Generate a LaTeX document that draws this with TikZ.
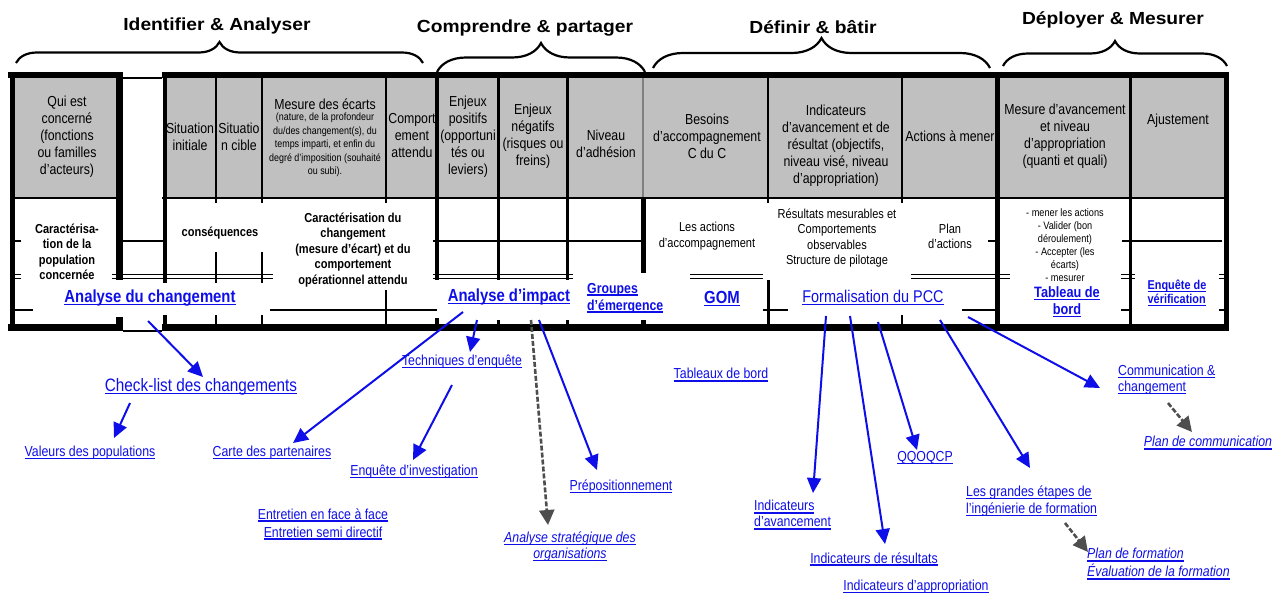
\documentclass[tikz,border=0pt]{standalone}
\usepackage{fontspec}
\setmainfont{Liberation Sans}[FakeStretch=0.85]
\newfontfamily\phasefont{Liberation Sans}[FakeStretch=1.1]
\usetikzlibrary{arrows.meta,calc,decorations.pathreplacing}
\definecolor{headfill}{RGB}{192,192,192}
\definecolor{linkblue}{RGB}{14,14,232}
\definecolor{linkgrey}{RGB}{78,78,78}
\newcommand{\ulink}[1]{\setbox0\hbox{#1}\rlap{\rule[-2.6pt]{\wd0}{1.3pt}}\box0}

\tikzset{
  headtext/.style={align=center, inner sep=0pt, font=\fontsize{14.5}{17}\selectfont},
  notetext/.style={align=center, inner sep=0pt, font=\fontsize{10.5}{13.5}\selectfont},
  celltext/.style={align=center, inner sep=0pt, font=\fontsize{13}{15.3}\selectfont},
  cellbold/.style={align=center, inner sep=0pt, font=\bfseries\fontsize{13}{15.5}\selectfont},
  linktext/.style={text=linkblue, inner sep=1pt, font=\fontsize{14.5}{16}\selectfont},
  linkbold/.style={text=linkblue, inner sep=1pt, font=\bfseries\fontsize{17.5}{19}\selectfont},
  flow/.style={draw=linkblue, line width=2pt, -{Triangle[length=15pt,width=14pt]}},
  flowgrey/.style={draw=linkgrey, line width=2.6pt, dash pattern=on 5pt off 2pt, -{Triangle[length=15pt,width=15pt]}},
  phase/.style={decorate, line width=2.2pt},
  phasetitle/.style={inner sep=0pt, font=\phasefont\bfseries\fontsize{17.5}{20}\selectfont},
}

\begin{document}
\begin{tikzpicture}[x=1pt, y=-1pt]
  \useasboundingbox (0,0) rectangle (1285,592);
  \node[phasetitle] (idtitle) at (217,26) {Identifier \& Analyser};
  \node[phasetitle] (comptitle) at (525,28) {Comprendre \& partager};
  \node[phasetitle] (deftitle) at (813,27) {Définir \& bâtir};
  \node[phasetitle] (deptitle) at (1113,20) {Déployer \& Mesurer};
  \draw[phase, decoration={brace, amplitude=21pt}] (16,63) -- (423,63);
  \draw[phase, decoration={brace, amplitude=29pt}] (437,72) -- (645,72);
  \draw[phase, decoration={brace, amplitude=30pt}] (653,68) -- (990,68);
  \draw[phase, decoration={brace, amplitude=25pt}] (1003,66) -- (1227,66);

  \fill[headfill] (15,78) rectangle (119,198);
  \fill[headfill] (164,78) rectangle (1225,198);
  \draw[gray, line width=2.5] (643,78) -- (643,198);
  \foreach \x/\ya/\yb/\w in {12.5/72/331/5, 119.5/72/280/7, 119.5/317/331/7, 164.5/72/283/4, 164.5/315/331/4,
      216/78/203/2.5, 216/252/283/2.5, 216/315/331/2.5, 262/78/203/2.5, 262/252/283/2.5, 262/315/331/2.5,
      386/78/203/2.5, 386/290/331/2.5, 437/78/280/4, 437/318/331/4, 498/78/280/3, 498/320/331/3,
      567/78/280/3, 567/320/331/3, 643/198/273/5, 643/320/331/5, 768/78/203/1.5, 768/280/331/3,
      902/78/203/1.5, 902/315/331/2, 997/72/331/5, 1130/72/331/3, 1226/72/331/5}
    \draw[line width=\w] (\x,\ya) -- (\x,\yb);
  \draw[line width=6] (8,75) -- (123,75) (162,75) -- (1228,75);
  \draw[line width=1.5] (123,78) -- (162,78);
  \draw[line width=1.5] (10,198) -- (123,198) (162,198) -- (1228,198);
  \foreach \xa/\xb in {13/21, 116/163, 433/643, 988/1000, 1122/1222}
    \draw[line width=2] (\xa,241) -- (\xb,241);
  \foreach \xa/\xb in {13/21, 112/273, 433/573, 690/763, 911/1010, 1121/1135, 1219/1226}
    \draw[line width=1.2] (\xa,274.5) -- (\xb,274.5) (\xa,278.5) -- (\xb,278.5);
  \foreach \xa/\xb in {13/33, 270/437, 763/788, 962/997, 1121/1132, 1219/1226}
    \draw[line width=2] (\xa,310) -- (\xb,310);
  \draw[line width=7] (8,327) -- (123,327) (162,327) -- (1228,327);
  \draw[line width=1.5] (123,331) -- (162,331);

  \node[headtext] (who) at (67,137) {Qui est\\concerné\\(fonctions\\ou familles\\d'acteurs)};
  \node[headtext] (sitini) at (190,137) {Situation\\initiale};
  \node[headtext] (sitcib) at (239,137) {Situatio\\n cible};
  \node[headtext] (ecart) at (325,104) {Mesure des écarts};
  \node[notetext] (ecartnote) at (325,145) {(nature, de la profondeur\\du/des changement(s), du\\temps imparti, et enfin du\\degré d'imposition (souhaité\\ou subi).};
  \node[headtext] (comport) at (412,136) {Comport\\ement\\attendu};
  \node[headtext] (enjpos) at (468,137) {Enjeux\\positifs\\(opportuni\\tés ou\\leviers)};
  \node[headtext] (enjneg) at (533,136) {Enjeux\\négatifs\\(risques ou\\freins)};
  \node[headtext] (adhesion) at (606,144) {Niveau\\d'adhésion};
  \node[headtext] (besoins) at (707,136) {Besoins\\d'accompagnement\\C du C};
  \node[headtext] (indic) at (836,146) {Indicateurs\\d'avancement et de\\résultat (objectifs,\\niveau visé, niveau\\d'appropriation)};
  \node[headtext] (actmener) at (950,136) {Actions à mener};
  \node[headtext] (mesav) at (1065,136) {Mesure d'avancement\\et niveau\\d'appropriation\\(quanti et quali)};
  \node[headtext] (ajust) at (1178,121) {Ajustement};

  \node[cellbold] (popul) at (67,252) {Caractérisa-\\tion de la\\population\\concernée};
  \node[cellbold] (conseq) at (220,233) {conséquences};
  \node[cellbold] (caracchg) at (353,250) {Caractérisation du\\changement\\(mesure d'écart) et du\\comportement\\opérationnel attendu};
  \node[celltext] (accomp) at (707,236) {Les actions\\d'accompagnement};
  \node[celltext] (mesures) at (837,238) {Résultats mesurables et\\Comportements\\observables\\Structure de pilotage};
  \node[celltext] (planact) at (950,236) {Plan\\d'actions};
  \node[celltext, font=\fontsize{10.8}{12.9}\selectfont] (etapesdep) at (1065,245) {- mener les actions\\- Valider (bon\\déroulement)\\- Accepter (les\\écarts)\\- mesurer};

  \node[linkbold] (analchg) at (150,298) {\ulink{Analyse du changement}};
  \node[linkbold] (analimp) at (509,297) {\ulink{Analyse d'impact}};
  \node[linkbold, font=\bfseries\fontsize{14.5}{17}\selectfont, align=left, anchor=west] (groupes) at (586,298) {\ulink{Groupes}\\\ulink{d'émergence}};
  \node[linkbold] (gom) at (722,299) {\ulink{GOM}};
  \node[linktext, font=\fontsize{17}{19}\selectfont] (pcc) at (873,298) {\ulink{Formalisation du PCC}};
  \node[linkbold, font=\bfseries\fontsize{15}{16.5}\selectfont, align=center] (tdb) at (1067,302) {\ulink{Tableau de}\\\ulink{bord}};
  \node[linkbold, font=\bfseries\fontsize{12.8}{13.5}\selectfont, align=left] (verif) at (1177,293) {\ulink{Enquête de}\\\ulink{vérification}};

  \node[linktext, font=\fontsize{18}{20}\selectfont] (checklist) at (201,387) {\ulink{Check-list des changements}};
  \node[linktext] (valeurs) at (90,453) {\ulink{Valeurs des populations}};
  \node[linktext] (carte) at (272,453) {\ulink{Carte des partenaires}};
  \node[linktext] (techenq) at (462,362) {\ulink{Techniques d'enquête}};
  \node[linktext] (enqinv) at (414,472) {\ulink{Enquête d'investigation}};
  \node[linktext, font=\fontsize{14.5}{18}\selectfont, align=center] (entretien) at (323,524) {\ulink{Entretien en face à face}\\\ulink{Entretien semi directif}};
  \node[linktext, font=\itshape\fontsize{14.5}{16}\selectfont, align=center] (strat) at (570,547) {\ulink{Analyse stratégique des}\\\ulink{organisations}};
  \node[linktext] (prepos) at (621,487) {\ulink{Prépositionnement}};
  \node[linktext] (tabbord) at (721,375) {\ulink{Tableaux de bord}};
  \node[linktext, align=left, anchor=west] (indav) at (753,515) {\ulink{Indicateurs}\\\ulink{d'avancement}};
  \node[linktext] (indres) at (874,559) {\ulink{Indicateurs de résultats}};
  \node[linktext] (indapp) at (916,587) {\ulink{Indicateurs d'appropriation}};
  \node[linktext] (qqoqcp) at (925,458) {\ulink{QQOQCP}};
  \node[linktext, font=\fontsize{14.5}{17}\selectfont, align=left, anchor=west] (ingenierie) at (965,501) {\ulink{Les grandes étapes de}\\\ulink{l'ingénierie de formation}};
  \node[linktext, align=left, anchor=west] (commchg) at (1117,380) {\ulink{Communication \&}\\\ulink{changement}};
  \node[linktext, font=\itshape\fontsize{14.5}{16}\selectfont] (plancomm) at (1208,443) {\ulink{Plan de communication}};
  \node[linktext, font=\itshape\fontsize{14.5}{18}\selectfont, align=left, anchor=west] (planform) at (1086,564) {\ulink{Plan de formation}\\\ulink{Évaluation de la formation}};

  \draw[flow] ($(analchg)+(-2,23)$) -- ($(checklist)+(2,-10)$);
  \draw[flow] ($(checklist)+(-71,16)$) -- ($(valeurs)+(24,-15)$);
  \draw[flow] ($(analimp)+(-46,15)$) -- ($(carte)+(21,-10)$);
  \draw[flow] ($(analimp)+(-32,23)$) -- ($(techenq)+(8,-10)$);
  \draw[flow] ($(techenq)+(-10,23)$) -- ($(enqinv)+(-1,-12)$);
  \draw[flowgrey] ($(analimp)+(22,23)$) -- ($(strat)+(-22,-22)$);
  \draw[flow] ($(analimp)+(30,23)$) -- ($(prepos)+(-24,-17)$);
  \draw[flow] ($(pcc)+(-47,18)$) -- ($(indav.west)+(60,-22)$);
  \draw[flow] ($(pcc)+(-23,18)$) -- ($(indres)+(11,-15)$);
  \draw[flow] ($(pcc)+(5,24)$) -- ($(qqoqcp)+(-8,-8)$);
  \draw[flow] ($(pcc)+(67,22)$) -- ($(ingenierie.west)+(65,-33)$);
  \draw[flow] ($(pcc)+(95,19)$) -- ($(commchg.west)+(-17,8)$);
  \draw[flowgrey] ($(commchg.west)+(51,23)$) -- ($(plancomm)+(-16,-11)$);
  \draw[flowgrey] ($(ingenierie.west)+(100,22)$) -- ($(planform.west)+(2,-12)$);
\end{tikzpicture}
\end{document}
